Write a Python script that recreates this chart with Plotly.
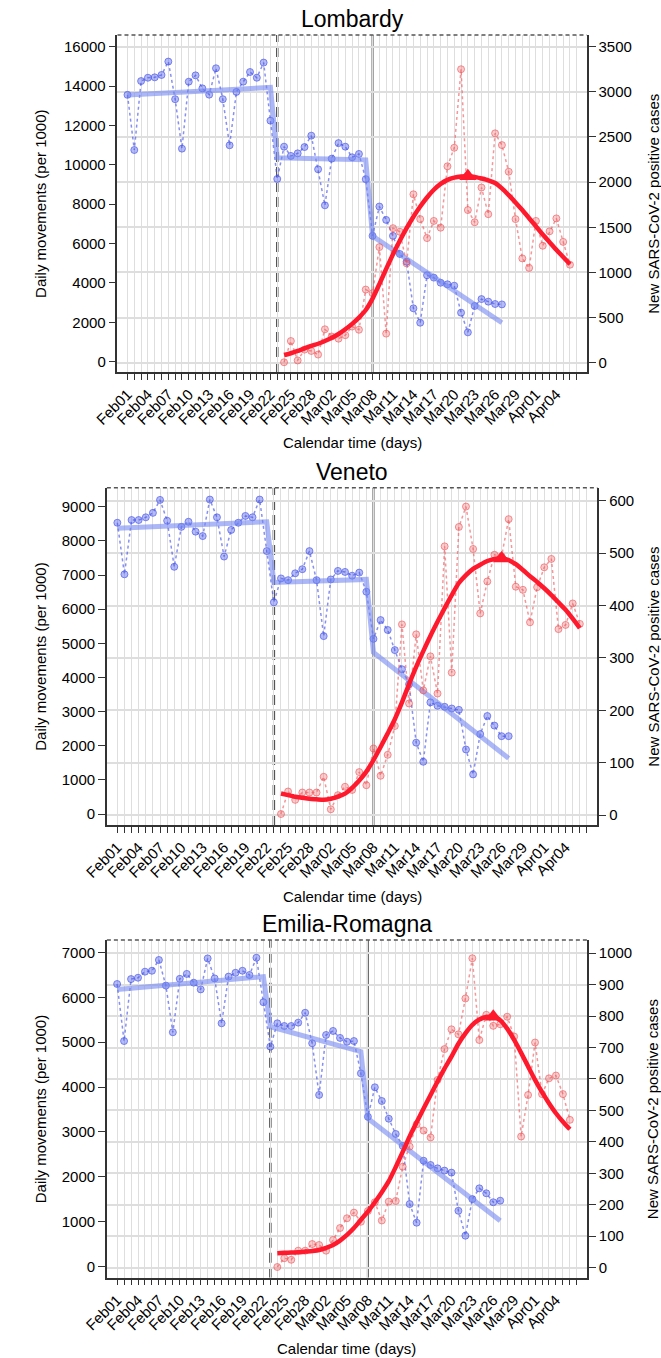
import plotly.graph_objects as go

# ---------------- categories (calendar days) ----------------
days = ([f"Feb{d:02d}" for d in range(1, 30)] +
        [f"Mar{d:02d}" for d in range(1, 32)] +
        [f"Apr{d:02d}" for d in range(1, 8)])
tick_labels = ["Feb01", "Feb04", "Feb07", "Feb10", "Feb13", "Feb16", "Feb19", "Feb22",
               "Feb25", "Feb28", "Mar02", "Mar05", "Mar08", "Mar11", "Mar14", "Mar17",
               "Mar20", "Mar23", "Mar26", "Mar29", "Apr01", "Apr04"]

move_days = days[days.index("Feb01"):days.index("Mar27") + 1]   # mobility series
case_days = days[days.index("Feb24"):days.index("Apr06") + 1]   # new cases series
fit_knots = ["Feb01", "Feb22", "Feb23", "Mar07", "Mar08", "Mar27"]
first_measure = "Feb23"
lockdown = "Mar08"

# ---------------- Lombardy ----------------
lom_move = [13550, 10750, 14250, 14420, 14440, 14560, 15240, 13330, 10820, 14220,
            14540, 13880, 13560, 14900, 13330, 10990, 13700, 14220, 14710, 14420,
            15190, 12240, 9280, 10920, 10450, 10580, 10900, 11480, 9770,
            7940, 10310, 11100, 10920, 10380, 10550, 9270, 6390, 7880, 7200,
            6390, 5470, 5080, 2710, 1980, 4390, 4270, 4010, 3930, 3860,
            2490, 1490, 2830, 3180, 3050, 2930, 2910]
lom_move_fit = [13540, 13930, 10360, 10250, 6380, 1980]
lom_cases = [5, 240, 25, 145, 130, 90,
             370, 290, 266, 305, 400, 365, 810, 770, 1280, 322,
             1490, 1450, 1100, 1865, 1590, 1380, 1570, 1495, 2175, 2380,
             3250, 1690, 1555, 1940, 1645, 2540, 2410, 2115, 1590, 1155, 1050,
             1570, 1295, 1455, 1598, 1338, 1085]
lom_cases_fit = [85, 105, 130, 159, 185, 210,
                 240, 275, 318, 370, 430, 500, 584, 710, 870, 1040,
                 1200, 1350, 1490, 1617, 1730, 1830, 1915, 1980, 2025, 2050,
                 2062, 2065, 2058, 2040, 2020, 1990, 1930, 1855, 1775, 1690, 1600,
                 1510, 1420, 1335, 1250, 1170, 1090]

# ---------------- Veneto ----------------
ven_move = [8530, 7020, 8610, 8610, 8690, 8820, 9200, 8590, 7240, 8410,
            8560, 8270, 8140, 9210, 8690, 7540, 8320, 8530, 8730, 8690,
            9210, 7700, 6200, 6900, 6850, 7050, 7170, 7700, 6850,
            5210, 6870, 7120, 7090, 6980, 7070, 6510, 5130, 5680, 5390,
            4800, 4240, 3800, 2090, 1530, 3270, 3170, 3140, 3090, 3050,
            1890, 1160, 2340, 2870, 2590, 2280, 2280]
ven_move_fit = [8370, 8560, 6780, 6870, 4730, 1630]
ven_cases = [2, 45, 29, 43, 43, 43,
             73, 11, 38, 54, 48, 82, 57, 127, 75, 115,
             170, 364, 213, 345, 238, 303, 232, 513, 272, 550,
             589, 508, 385, 446, 497, 494, 565, 436, 430, 368, 435,
             473, 489, 355, 363, 404, 365]
ven_cases_fit = [41, 38, 35, 33, 31, 30,
                 29, 31, 35, 41, 52, 66, 83, 105, 130, 156,
                 183, 215, 250, 283, 313, 342, 369, 395, 420, 443,
                 458, 470, 478, 485, 489, 490, 487, 479, 468, 456, 445,
                 433, 420, 406, 392, 375, 357]

# ---------------- Emilia-Romagna ----------------
emr_move = [6295, 5025, 6405, 6435, 6570, 6590, 6830, 6260, 5220, 6410,
            6520, 6325, 6175, 6865, 6420, 5420, 6460, 6545, 6590, 6495,
            6880, 5890, 4900, 5420, 5360, 5360, 5435, 5655, 4975,
            3825, 5160, 5250, 5095, 5010, 5025, 4305, 3340, 3995, 3690,
            3295, 2955, 2690, 1395, 980, 2360, 2265, 2190, 2140, 2095,
            1245, 690, 1505, 1745, 1635, 1435, 1470]
emr_move_fit = [6175, 6460, 5345, 4790, 3300, 1025]
emr_cases = [2, 30, 25, 54, 54, 75,
             72, 54, 88, 126, 157, 175, 146, 180, 208, 150,
             210, 212, 321, 385, 456, 436, 414, 597, 695, 758,
             742, 856, 984, 724, 804, 769, 774, 798, 735, 417, 549,
             716, 552, 602, 611, 552, 470]
emr_cases_fit = [46, 47, 48, 49, 51, 53,
                 56, 63, 72, 86, 104, 126, 152, 178, 208, 240,
                 275, 320, 368, 417, 462, 506, 549, 592, 633, 671,
                 712, 745, 772, 789, 797, 798, 787, 760, 724, 683, 640,
                 597, 558, 523, 491, 464, 440]

panels = [
    dict(title="Lombardy", move=lom_move, move_fit=lom_move_fit, cases=lom_cases,
         cases_fit=lom_cases_fit, left_ticks=list(range(0, 16001, 2000)),
         right_ticks=list(range(0, 3501, 500)), left_range=[-523, 16590],
         right_range=[-103, 3629], px=(97, 584), py=(35, 372)),
    dict(title="Veneto", move=ven_move, move_fit=ven_move_fit, cases=ven_cases,
         cases_fit=ven_cases_fit, left_ticks=list(range(0, 9001, 1000)),
         right_ticks=list(range(0, 601, 100)), left_range=[-322, 9557],
         right_range=[-19, 625], px=(86, 595), py=(487.7, 825)),
    dict(title="Emilia-Romagna", move=emr_move, move_fit=emr_move_fit, cases=emr_cases,
         cases_fit=emr_cases_fit, left_ticks=list(range(0, 7001, 1000)),
         right_ticks=list(range(0, 1001, 100)), left_range=[-245, 7275],
         right_range=[-32, 1042], px=(86, 584.3), py=(940, 1277.7)),
]

W, H = 661, 1358
FONT = "Liberation Sans, Arial, Helvetica, sans-serif"
BLUE_PT = "rgba(70,85,235,0.40)"
BLUE_PT_LINE = "rgba(70,85,235,0.65)"
BLUE_FIT = "rgba(115,135,240,0.60)"
RED_PT = "rgba(245,85,90,0.30)"
RED_PT_LINE = "rgba(240,80,85,0.60)"
RED_FIT = "rgb(255,25,45)"
AX = "#333333"
GRID = "#dedede"

fig = go.Figure()
layout = dict(width=W, height=H, autosize=False, margin=dict(l=0, r=0, t=0, b=0),
              paper_bgcolor="white", plot_bgcolor="white", showlegend=False,
              font=dict(family=FONT, size=15, color="black"))
annotations = []
shapes = []
ticktext = [d if d in tick_labels else "" for d in days]

for i, p in enumerate(panels):
    k = i + 1
    xname = "x" if k == 1 else f"x{k}"
    yl = "y" if k == 1 else f"y{2 * k - 1}"
    yr = f"y{2 * k}"
    xkey = "xaxis" if k == 1 else f"xaxis{k}"
    ylkey = "yaxis" if k == 1 else f"yaxis{2 * k - 1}"
    yrkey = f"yaxis{2 * k}"

    x0, x1 = p["px"][0] / W, p["px"][1] / W
    y0, y1 = 1 - p["py"][1] / H, 1 - p["py"][0] / H

    layout[xkey] = dict(domain=[x0, x1], anchor=yl, type="category",
                        categoryorder="array", categoryarray=days,
                        range=[-1.47, 67.47], tickmode="array", tickvals=days,
                        ticktext=ticktext, tickangle=-45, ticks="outside",
                        ticklen=6, tickcolor=AX, tickwidth=1,
                        showline=True, linecolor=AX, linewidth=1.5,
                        showgrid=True, gridcolor=GRID, gridwidth=1,
                        zeroline=False, tickfont=dict(size=15, family=FONT))
    layout[ylkey] = dict(domain=[y0, y1], anchor=xname, range=p["left_range"],
                         tickmode="array", tickvals=p["left_ticks"],
                         ticktext=[str(v) for v in p["left_ticks"]], ticks="outside",
                         ticklen=7, tickcolor=AX, tickwidth=1, showline=True,
                         linecolor=AX, linewidth=1.5, showgrid=False, zeroline=False,
                         tickfont=dict(size=15, family=FONT))
    layout[yrkey] = dict(domain=[y0, y1], anchor=xname, overlaying=yl, side="right",
                         range=p["right_range"], tickmode="array",
                         tickvals=p["right_ticks"],
                         ticktext=[str(v) for v in p["right_ticks"]], ticks="outside",
                         ticklen=7, tickcolor=AX, tickwidth=1, showline=True,
                         linecolor=AX, linewidth=1.5, showgrid=True, gridcolor=GRID,
                         gridwidth=1.5, zeroline=False,
                         tickfont=dict(size=15, family=FONT))

    # mobility: observed points and fitted piecewise-linear trend
    fig.add_trace(go.Scatter(x=move_days, y=p["move"], xaxis=xname, yaxis=yl,
                             mode="lines+markers",
                             line=dict(color=BLUE_PT_LINE, width=1.5, dash="dot"),
                             marker=dict(size=7, color=BLUE_PT,
                                         line=dict(color=BLUE_PT_LINE, width=1))))
    fig.add_trace(go.Scatter(x=fit_knots, y=p["move_fit"], xaxis=xname, yaxis=yl,
                             mode="lines", line=dict(color=BLUE_FIT, width=5)))
    # new cases: observed points and fitted curve
    fig.add_trace(go.Scatter(x=case_days, y=p["cases"], xaxis=xname, yaxis=yr,
                             mode="lines+markers",
                             line=dict(color=RED_PT_LINE, width=1.5, dash="dot"),
                             marker=dict(size=7, color=RED_PT,
                                         line=dict(color=RED_PT_LINE, width=1))))
    fig.add_trace(go.Scatter(x=case_days, y=p["cases_fit"], xaxis=xname, yaxis=yr,
                             mode="lines", line=dict(color=RED_FIT, width=4.5,
                                                     shape="spline", smoothing=0.6)))
    pk = p["cases_fit"].index(max(p["cases_fit"]))
    fig.add_trace(go.Scatter(x=[case_days[pk]], y=[p["cases_fit"][pk]], xaxis=xname,
                             yaxis=yr, mode="markers",
                             marker=dict(symbol="triangle-up", size=15, color=RED_FIT)))

    # vertical reference lines (axis-referenced so they sit above the grid)
    lo, hi = p["left_range"]
    shapes.append(dict(type="line", xref=xname, yref=yl,
                       x0=first_measure, x1=first_measure, y0=lo, y1=hi, layer="below",
                       line=dict(color="#555555", width=2.5, dash="10px,5px")))
    shapes.append(dict(type="line", xref=xname, yref=yl,
                       x0=lockdown, x1=lockdown, y0=lo, y1=hi, layer="below",
                       line=dict(color="#5a5a5a", width=2)))
    # dashed top border
    shapes.append(dict(type="line", xref=f"{xname} domain", yref=f"{yl} domain",
                       x0=0, x1=1, y0=1, y1=1,
                       line=dict(color="#555555", width=1.5, dash="4px,3px")))

    cx = (x0 + x1) / 2
    cy = (y0 + y1) / 2
    annotations.append(dict(text=p["title"], x=cx, y=1 - (p["py"][0] - 16) / H,
                            xref="paper", yref="paper", showarrow=False,
                            xanchor="center", yanchor="middle",
                            font=dict(size=23, family=FONT, color="black")))
    annotations.append(dict(text="Calendar time (days)", x=cx,
                            y=1 - (p["py"][1] + 71) / H, xref="paper", yref="paper",
                            showarrow=False, xanchor="center", yanchor="middle",
                            font=dict(size=15, family=FONT, color="black")))
    annotations.append(dict(text="Daily movements (per 1000)", x=17 / W, y=cy,
                            xref="paper", yref="paper", showarrow=False, textangle=-90,
                            xanchor="center", yanchor="middle",
                            font=dict(size=15, family=FONT, color="black")))
    annotations.append(dict(text="New SARS-CoV-2 positive cases", x=653 / W, y=cy,
                            xref="paper", yref="paper", showarrow=False, textangle=-90,
                            xanchor="center", yanchor="middle",
                            font=dict(size=15, family=FONT, color="black")))

layout["annotations"] = annotations
layout["shapes"] = shapes
fig.update_layout(**layout)
fig.write_html("out.html")
